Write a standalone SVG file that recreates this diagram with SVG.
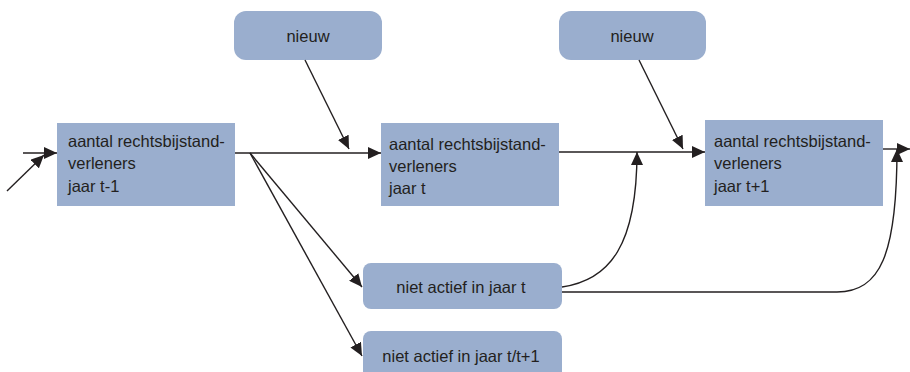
<svg xmlns="http://www.w3.org/2000/svg" width="910" height="372" viewBox="0 0 910 372">
<style>
.box{fill:#9aaece;}
.t{font-family:"Liberation Sans",Arial,sans-serif;font-size:16.5px;fill:#231f20;}
.c{text-anchor:middle;}
.ln{stroke:#231f20;stroke-width:1.4;fill:none;}
</style>
<defs>
<marker id="ah" markerUnits="userSpaceOnUse" markerWidth="14" markerHeight="12" refX="13" refY="6" orient="auto">
<path d="M0,0 L13,6 L0,12 Z" fill="#231f20"/>
</marker>
</defs>
<rect width="910" height="372" fill="#ffffff"/>
<g id="nieuw1"><rect class="box" x="234" y="11" width="148" height="49" rx="12"/><text class="t c" x="308" y="42">nieuw</text></g>
<g id="nieuw2"><rect class="box" x="559" y="11" width="147" height="49" rx="12"/><text class="t c" x="632" y="42">nieuw</text></g>
<g id="jaar-t-1"><rect class="box" x="57" y="123" width="178" height="83"/>
<text class="t" x="68" y="147">aantal rechtsbijstand-</text><text class="t" x="68" y="169">verleners</text><text class="t" x="68" y="192">jaar t-1</text></g>
<g id="jaar-t"><rect class="box" x="381" y="123" width="178" height="83"/>
<text class="t" x="389" y="150">aantal rechtsbijstand-</text><text class="t" x="389" y="172">verleners</text><text class="t" x="389" y="194">jaar t</text></g>
<g id="jaar-t1"><rect class="box" x="705" y="120" width="178" height="86"/>
<text class="t" x="714" y="147">aantal rechtsbijstand-</text><text class="t" x="714" y="169">verleners</text><text class="t" x="714" y="192">jaar t+1</text></g>
<g id="niet-t"><rect class="box" x="363" y="263" width="199" height="46" rx="8"/><text class="t c" x="461" y="293">niet actief in jaar t</text></g>
<g id="niet-tt1"><rect class="box" x="363" y="331" width="199" height="60" rx="8"/><text class="t c" x="461" y="362">niet actief in jaar t/t+1</text></g>
<g id="connectors">
<path class="ln" d="M23,153 L57,153" marker-end="url(#ah)"/>
<path class="ln" d="M7,191 L44,155" marker-end="url(#ah)"/>
<path class="ln" d="M235,153 L381,153" marker-end="url(#ah)"/>
<path class="ln" d="M250,153 L362,287" marker-end="url(#ah)"/>
<path class="ln" d="M250,153 L362,356" marker-end="url(#ah)"/>
<path class="ln" d="M305,60 L349,149" marker-end="url(#ah)"/>
<path class="ln" d="M559,152 L705,152" marker-end="url(#ah)"/>
<path class="ln" d="M639,60 L683,149" marker-end="url(#ah)"/>
<path class="ln" d="M562,287 C610,280 637,245 637,152" marker-end="url(#ah)"/>
<path class="ln" d="M562,292 L837,292 C880,292 897,255 897,149" marker-end="url(#ah)"/>
<path class="ln" d="M883,149 L910,149" marker-end="url(#ah)"/>
</g>
</svg>
